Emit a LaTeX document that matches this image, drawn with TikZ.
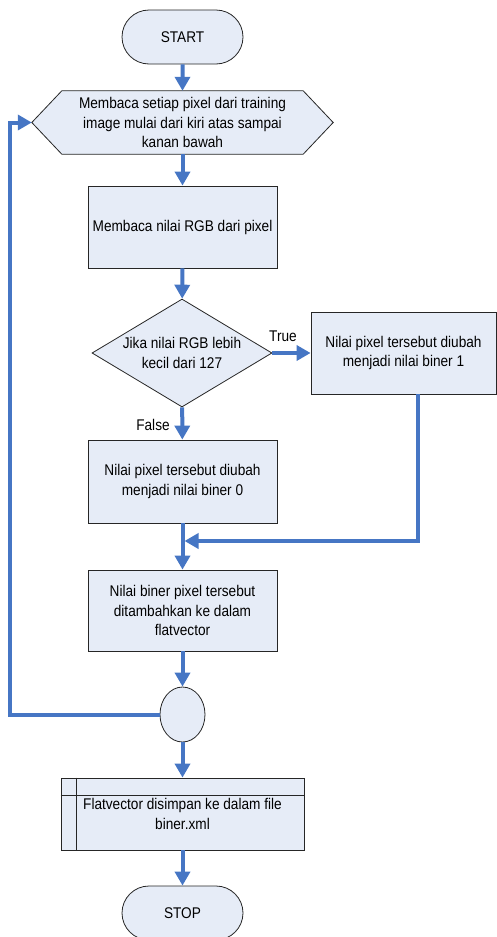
\documentclass[tikz,border=0pt]{standalone}
\usepackage{fontspec}
\setmainfont{Liberation Sans}[FakeStretch=0.88]
\usetikzlibrary{shapes.geometric,shapes.misc,arrows.meta,backgrounds,calc}
\definecolor{boxfill}{RGB}{230,236,247}
\definecolor{flowblue}{RGB}{70,118,196}
\begin{document}
\begin{tikzpicture}[x=1pt,y=-1pt,
  every node/.style={font=\fontsize{15.5}{19.5}\selectfont, align=center, inner sep=0pt},
  base/.style={draw=black!85, line width=0.8pt, fill=boxfill},
  terminal/.style={base, rounded rectangle, minimum width=121pt, minimum height=54pt},
  process/.style={base, rectangle, minimum width=189pt, minimum height=82pt},
  decision/.style={base, diamond, minimum width=180pt, minimum height=108pt, aspect=1.667},
  flow/.style={draw=flowblue, line width=4pt, -{Triangle[width=15pt,length=14pt]}},
  lbl/.style={font=\fontsize{15.5}{18}\selectfont}
]
\useasboundingbox (0,0) rectangle (497,937);

% shapes
\node[terminal] (start) at (182.5,37) {START};
\node[minimum width=301pt, minimum height=63pt] (read) at (182.5,122.5)
  {Membaca setiap pixel dari training\\image mulai dari kiri atas sampai\\kanan bawah};
\begin{scope}[on background layer]
  \draw[base] (read.west) -- ([xshift=30pt]read.north west) -- ([xshift=-30pt]read.north east)
    -- (read.east) -- ([xshift=-30pt]read.south east) -- ([xshift=30pt]read.south west) -- cycle;
\end{scope}
\node[process] (rgb) at (182.5,227) {Membaca nilai RGB dari pixel};
\node[decision] (cmp) at (182,353) {Jika nilai RGB lebih\\kecil dari 127};
\node[process, minimum width=185pt] (one) at (403.5,353) {Nilai pixel tersebut diubah\\menjadi nilai biner 1};
\node[process, minimum height=83pt] (zero) at (182.5,481.5) {Nilai pixel tersebut diubah\\menjadi nilai biner 0};
\node[process, minimum height=81pt] (add) at (182.5,610.5) {Nilai biner pixel tersebut\\ditambahkan ke dalam\\flatvector};
\node[base, ellipse, minimum width=45pt, minimum height=55pt] (junc) at (182.5,714.5) {};
\node[base, rectangle, minimum width=243pt, minimum height=72pt] (save) at (182.5,814)
  {Flatvector disimpan ke dalam file\\biner.xml};
\draw[draw=black!85, line width=0.8pt] ([xshift=16pt]save.north west) -- ([xshift=16pt]save.south west);
\draw[draw=black!85, line width=0.8pt] ([yshift=-18pt]save.north west) -- ([yshift=-18pt]save.north east);
\node[terminal] (stop) at (182.5,913) {STOP};

% branch labels
\node[lbl] (truelbl) at (283,336) {True};
\node[lbl] (falselbl) at (153,425) {False};

% connectors
\coordinate (merge) at (182.5,541);
\draw[flow] (start) -- (read);
\draw[flow] (read) -- (rgb);
\draw[flow] (rgb) -- (cmp);
\draw[flow] (cmp) -- (one);
\draw[flow] (cmp) -- (zero);
\draw[flow] (zero) -- (add);
\draw[flow, shorten >=2pt] ([xshift=14pt]one.south) |- (merge);
\draw[flow] (add) -- (junc);
\draw[flow] (junc.west) -- ++(-150,0) |- (read.west);
\draw[flow] (junc) -- (save);
\draw[flow] (save) -- (stop);
\end{tikzpicture}
\end{document}
